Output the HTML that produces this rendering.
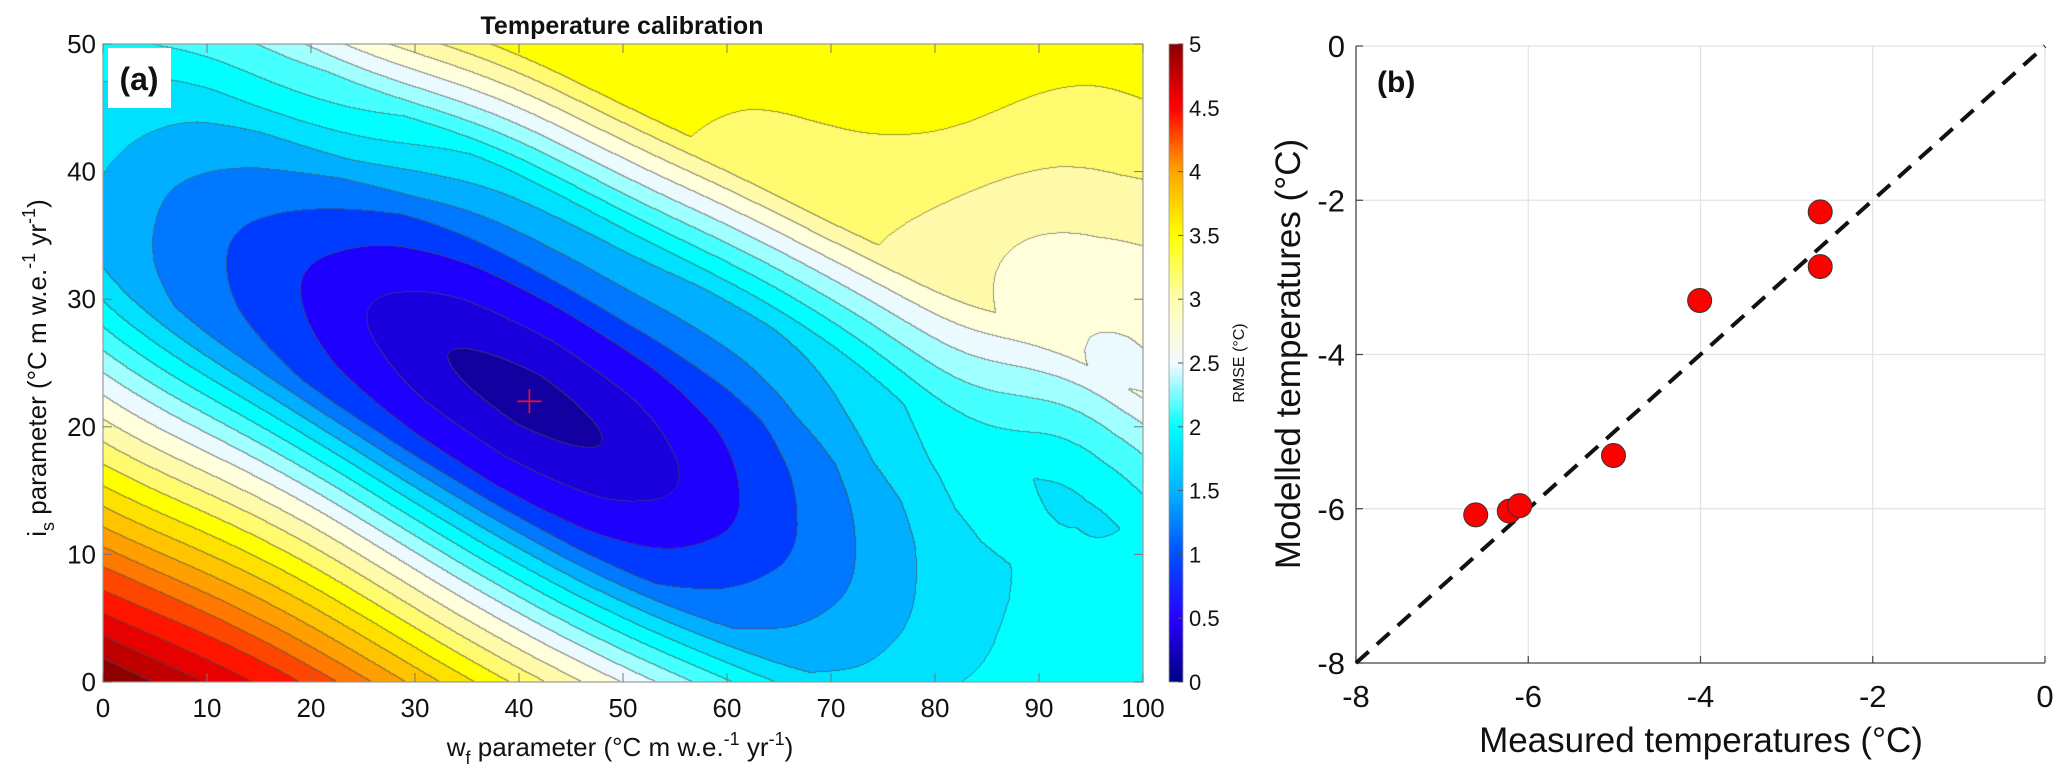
<!DOCTYPE html>
<html><head><meta charset="utf-8">
<style>
html,body{margin:0;padding:0;background:#fff;}
#wrap{position:relative;width:2067px;height:781px;overflow:hidden;font-family:"Liberation Sans",Arial,sans-serif;}
canvas{position:absolute;left:103px;top:44px;}
svg{position:absolute;left:0;top:0;}
</style></head>
<body>
<div id="wrap">
<canvas id="field" width="1040" height="638"></canvas>
<svg id="svg" width="2067" height="781" xmlns="http://www.w3.org/2000/svg"></svg>
</div>
<script>
// ---------- Panel (a) data ----------
const wTicks = [0,10,20,30,40,50,60,70,80,90,100];
const iTicks = [0,10,20,30,40,50];
const cbTicks = [0,0.5,1,1.5,2,2.5,3,3.5,4,4.5,5];
const bestW = [41];
const bestI = [22];
const valleySlope = [0.47];
const gNegX = [0,2.7,5.9,8.6,13,18,23,32,42,50];
const gNegY = [0,1,2,3,6.5,10.3,13.6,19.5,24.8,29];
const gPosX = [0,2.8,6,8.9,10.8,13.6,16.7,28,60];
const gPosY = [0,1,2,3,4,5,6,13.8,14.5];
const hX = [0,9,17.3,24.3,31.4,38.2,44,52,70];
const hY = [0.3,1,2,3,4,5,6,7,8];
// observed band values (contour-level units, 0.25 degC per level)
const obsW = [0,10,20,30,40,50,60,70,80,90,100,
  0,10,20,30,40,50,60,65,70,80,90,100,
  0,0,0,0,0,0,0,
  100,100,100,100,100,100,100,100,100,100,
  41,31.9,48.2,24.2,55.8,17.9,62.2,11.5,68.6,5.4,74.6,80.7,
  41,41,41,41,41,41,
  70,60,80,80,
  50,80,10,20,30,10];
const obsI = [50,50,50,50,50,50,50,50,50,50,50,
  0,0,0,0,0,0,0,0,0,0,0,0,
  45,40,35,30,20,10,38,
  47.8,43.9,39.9,36.9,30.9,27.3,23.1,12,5,17,
  22,26.1,18.4,28.9,14.9,32.1,11.9,35,8.9,37.9,5.7,2.8,
  24.8,19.7,28,16.8,30.9,14.3,
  30,40,20,10,
  40,30,10,10,10,20];
const obsV = [7.6,9.6,11.3,12.9,14.3,14.6,14.7,14.8,15.0,15.3,15.5,
  24.5,22.0,19.5,16.5,13.8,11.0,8.3,7.5,6.6,7.2,7.5,8.4,
  7.0,5.9,5.8,6.5,11.3,16.8,5.5,
  15.0,14.0,13.0,12.0,11.0,10.0,9.0,7.6,8.3,7.8,
  0.3,1,1,2,2,3,3,4,4,5,5,6,
  1,1,2,2,3,3,
  9.6,11.5,8.5,7.5,
  11.3,9.8,16.3,14.2,10.5,10.8];
const bandColors = [[20,0,160],[25,0,220],[30,0,255],[0,60,255],[0,120,255],[0,175,255],[0,225,255],[0,255,255],[70,255,255],[160,255,255],[235,250,255],[255,255,220],[255,250,170],[255,250,110],[255,255,0],[255,225,0],[255,195,0],[255,160,0],[255,120,0],[255,70,0],[255,20,0],[230,0,0],[190,0,0],[140,0,0]];

// ---------- Panel (b) data ----------
const measured = [-6.61,-6.22,-6.10,-5.01,-4.01,-2.61,-2.61];
const modelled = [-6.08,-6.03,-5.96,-5.31,-3.30,-2.15,-2.86];
const bTicks = [-8,-6,-4,-2,0];

// ---------- geometry ----------
const A = {x0:103,x1:1143,y0:44,y1:682};
const xa = w => A.x0 + w/100*(A.x1-A.x0);
const ya = i => A.y1 - i/50*(A.y1-A.y0);
const B = {x0:1356,x1:2045,y0:46,y1:663};
const xb = v => B.x0 + (v+8)/8*(B.x1-B.x0);
const yb = v => B.y1 - (v+8)/8*(B.y1-B.y0);
const yc = v => A.y1 - v/5*(A.y1-A.y0);

function interp(xs,ys,x){
  if(x<=xs[0]) return ys[0];
  for(let k=1;k<xs.length;k++){ if(x<=xs[k]){const t=(x-xs[k-1])/(xs[k]-xs[k-1]);return ys[k-1]+t*(ys[k]-ys[k-1]);} }
  return ys[ys.length-1];
}
function model(w,i){
  const s=valleySlope[0];
  const v=(i-bestI[0])+s*(w-bestW[0]);
  const u=((w-bestW[0])-s*(i-bestI[0]))/Math.sqrt(1+s*s);
  const g = v<0 ? interp(gNegX,gNegY,-v) : interp(gPosX,gPosY,v);
  const h = interp(hX,hY,Math.abs(u));
  return Math.sqrt(g*g+h*h);
}
(function(){
  const cv=document.getElementById('field'); const ctx=cv.getContext('2d');
  const W=cv.width,H=cv.height;
  const n=obsW.length; const corr=new Float64Array(n);
  for(let k=0;k<n;k++) corr[k]=obsV[k]-model(obsW[k],obsI[k]);
  const S2=2*8.5*8.5;
  function correction(w,i){
    let sw=0,sc=0;
    for(let k=0;k<n;k++){const dx=w-obsW[k],dy=i-obsI[k];const d2=dx*dx+dy*dy;const wt=Math.exp(-d2/S2)+1e-6/(d2+1);sw+=wt;sc+=wt*corr[k];}
    return sc/sw;
  }
  const GW=101,GH=51; const cg=new Float64Array(GW*GH);
  for(let a=0;a<GH;a++)for(let b=0;b<GW;b++)cg[a*GW+b]=correction(b,a);
  function corrAt(w,i){
    const b=Math.min(GW-2,Math.floor(w)),a=Math.min(GH-2,Math.floor(i));
    const tx=w-b,ty=i-a;
    return cg[a*GW+b]*(1-tx)*(1-ty)+cg[a*GW+b+1]*tx*(1-ty)+cg[(a+1)*GW+b]*(1-tx)*ty+cg[(a+1)*GW+b+1]*tx*ty;
  }
  const band=new Int16Array(W*H);
  for(let y=0;y<H;y++){
    const i=50-(y+0.5)/H*50;
    for(let x=0;x<W;x++){
      const w=(x+0.5)/W*100;
      const f=model(w,i)+corrAt(w,i);
      let b=Math.floor(f); if(b<0)b=0; if(b>23)b=23;
      band[y*W+x]=b;
    }
  }
  const img=ctx.createImageData(W,H); const d=img.data;
  for(let y=0;y<H;y++)for(let x=0;x<W;x++){
    const p=y*W+x; const b=band[p]; let c=bandColors[b];
    let edge=(x<W-1&&band[p+1]!==b)||(y<H-1&&band[p+W]!==b);
    let r=c[0],g=c[1],bb=c[2];
    if(edge){r=r*0.45+40;g=g*0.45+40;bb=bb*0.45+40;}
    d[p*4]=r;d[p*4+1]=g;d[p*4+2]=bb;d[p*4+3]=255;
  }
  ctx.putImageData(img,0,0);
})();

const NS='http://www.w3.org/2000/svg';
const svg=document.getElementById('svg');
function el(tag,attrs,parent){const e=document.createElementNS(NS,tag);for(const k in attrs)e.setAttribute(k,attrs[k]);(parent||svg).appendChild(e);return e;}
function txt(s,attrs,parent){const e=el('text',attrs,parent);e.textContent=s;return e;}

let t;
t=el('rect',{x:A.x0,y:A.y0,width:A.x1-A.x0,height:A.y1-A.y0,fill:'none',stroke:'#999','stroke-width':1.2});


wTicks.forEach(w=>{
  const l=el('line',{x1:xa(w),x2:xa(w),y1:A.y1,y2:A.y1-9,stroke:'#777','stroke-width':1});
  
  
  const l2=el('line',{x1:xa(w),x2:xa(w),y1:A.y0,y2:A.y0+9,stroke:'#777','stroke-width':1});
  
  
  const tx=txt(String(w),{x:xa(w),y:717,'font-size':26,'text-anchor':'middle',fill:'#111'});
  
  
});
iTicks.forEach(i=>{
  const l=el('line',{x1:A.x0,x2:A.x0+9,y1:ya(i),y2:ya(i),stroke:'#777','stroke-width':1});
  
  
  const l2=el('line',{x1:A.x1,x2:A.x1-9,y1:ya(i),y2:ya(i),stroke:'#777','stroke-width':1});
  
  
  const tx=txt(String(i),{x:96,y:ya(i)+9,'font-size':26,'text-anchor':'end',fill:'#111'});
  
  
});
const cx=xa(bestW[0]), cy=ya(bestI[0]);
t=el('path',{d:`M${cx-12} ${cy}H${cx+12}M${cx} ${cy-12}V${cy+12}`,stroke:'#ff1010','stroke-width':1.6,fill:'none'});



const defs=el('defs',{});
const grad=el('linearGradient',{id:'cbg',x1:0,y1:1,x2:0,y2:0},defs);
const cbStops=[[0,'#000080'],[0.1,'#2800ff'],[0.2,'#0050ff'],[0.3,'#00b4ff'],[0.4,'#00ffff'],[0.5,'#f4faff'],[0.6,'#ffffb0'],[0.7,'#ffff00'],[0.8,'#ffa500'],[0.9,'#ff0000'],[1,'#8c0000']];
cbStops.forEach(s=>el('stop',{offset:s[0],'stop-color':s[1]},grad));
t=el('rect',{x:1169,y:A.y0,width:14,height:A.y1-A.y0,fill:'url(#cbg)',stroke:'#999','stroke-width':0.8});


cbTicks.forEach(v=>{
  const l=el('line',{x1:1178,x2:1183,y1:yc(v),y2:yc(v),stroke:'#555','stroke-width':1});
  
  
  const tx=txt(String(v),{x:1189,y:yc(v)+8,'font-size':22,fill:'#111'});
  
  
});

bTicks.forEach(v=>{
  if(v>-8){
    const g1=el('line',{x1:xb(v),x2:xb(v),y1:B.y0,y2:B.y1,stroke:'#e3e3e3','stroke-width':1.2});
    
    
    const g2=el('line',{x1:B.x0,x2:B.x1,y1:yb(v),y2:yb(v),stroke:'#e3e3e3','stroke-width':1.2});
    
    
  }
});
t=el('path',{d:`M${B.x0} ${B.y0}V${B.y1}H${B.x1}`,stroke:'#444','stroke-width':1.3,fill:'none'});


bTicks.forEach(v=>{
  const l=el('line',{x1:xb(v),x2:xb(v),y1:B.y1,y2:B.y1-7,stroke:'#444','stroke-width':1.2});
  
  
  const l2=el('line',{x1:B.x0,x2:B.x0+7,y1:yb(v),y2:yb(v),stroke:'#444','stroke-width':1.2});
  
  
  const tx=txt(String(v),{x:xb(v),y:707,'font-size':31,'text-anchor':'middle',fill:'#111'});
  
  
  const ty=txt(String(v),{x:1345,y:yb(v)+11,'font-size':31,'text-anchor':'end',fill:'#111'});
  
  
});
t=el('line',{x1:xb(-8),y1:yb(-8),x2:xb(0),y2:yb(0),stroke:'#111','stroke-width':4,'stroke-dasharray':'17 11'});


measured.forEach((m,k)=>{
  const c=el('circle',{cx:xb(m),cy:yb(modelled[k]),r:12,fill:'#ff0000',stroke:'#333','stroke-width':1});
  
  
});
</script>
<svg width="2067" height="781" style="position:absolute;left:0;top:0;pointer-events:none" xmlns="http://www.w3.org/2000/svg">
  <text x="622" y="34" font-size="25" font-weight="bold" text-anchor="middle" fill="#111" font-family="Liberation Sans, sans-serif">Temperature calibration</text>
  <rect x="108" y="48" width="63" height="60" fill="#fff"/>
  <text x="139" y="90" font-size="32" font-weight="bold" text-anchor="middle" fill="#111" font-family="Liberation Sans, sans-serif">(a)</text>
  <text x="620" y="756" font-size="26" text-anchor="middle" fill="#111" font-family="Liberation Sans, sans-serif">w<tspan font-size="18" dy="8">f</tspan><tspan dy="-8"> parameter (°C m w.e.</tspan><tspan font-size="18" dy="-11">-1</tspan><tspan dy="11"> yr</tspan><tspan font-size="18" dy="-11">-1</tspan><tspan dy="11">)</tspan></text>
  <text transform="translate(46,368) rotate(-90)" font-size="26" text-anchor="middle" fill="#111" font-family="Liberation Sans, sans-serif">i<tspan font-size="18" dy="8">s</tspan><tspan dy="-8"> parameter (°C m w.e.</tspan><tspan font-size="18" dy="-11">-1</tspan><tspan dy="11"> yr</tspan><tspan font-size="18" dy="-11">-1</tspan><tspan dy="11">)</tspan></text>
  <text transform="translate(1244,363) rotate(-90)" font-size="16" text-anchor="middle" fill="#111" font-family="Liberation Sans, sans-serif">RMSE (°C)</text>
  <text x="1377" y="92" font-size="30" font-weight="bold" fill="#111" font-family="Liberation Sans, sans-serif">(b)</text>
  <text x="1701" y="752" font-size="35" text-anchor="middle" fill="#111" font-family="Liberation Sans, sans-serif">Measured temperatures (°C)</text>
  <text transform="translate(1300,354) rotate(-90)" font-size="35" text-anchor="middle" fill="#111" font-family="Liberation Sans, sans-serif">Modelled temperatures (°C)</text>
</svg>
</body></html>
